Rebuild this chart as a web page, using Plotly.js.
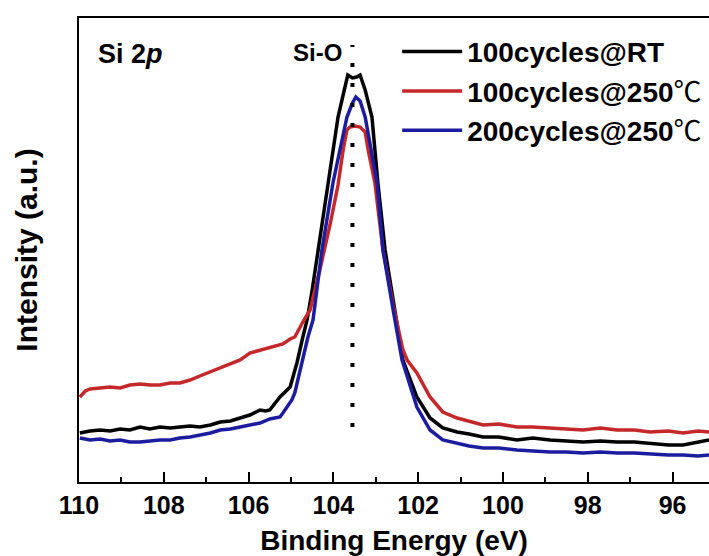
<!DOCTYPE html>
<html>
<head>
<meta charset="utf-8">
<script src="https://cdn.plot.ly/plotly-3.0.1.min.js"></script>
<style>html,body{margin:0;padding:0;background:#fff;}#chart{width:709px;height:556px;}</style>
</head>
<body>
<div id="chart"></div>
<script>
// Binding energy (eV) and intensity (a.u.)
var energyRT = [109.98,109.74,109.50,109.27,109.03,108.80,108.56,108.33,108.09,107.85,107.62,107.38,107.15,106.90,106.67,106.43,106.20,105.97,105.73,105.60,105.50,105.26,105.02,104.86,104.72,104.62,104.50,104.36,104.13,103.89,103.77,103.66,103.55,103.45,103.37,103.25,103.09,102.95,102.78,102.59,102.36,102.03,101.72,101.42,101.08,100.80,100.47,100.10,99.67,99.30,98.89,98.50,98.11,97.70,97.31,96.90,96.53,96.10,95.75,95.40,95.14];
var intensityRT = [49,51,52,51,53,52,55,53,55,54,55,56,55,57,60,61,64,67,72,71,72,85,95,119,145,162,192,232,299,365,387,407,404,405,407,392,365,299,232,182,122,85,64,54,50,48,45,45,42,44,42,41,40,41,40,40,39,37,37,40,42];

var energy250 = [109.98,109.85,109.74,109.50,109.27,109.03,108.80,108.56,108.33,108.09,107.85,107.62,107.38,107.15,106.90,106.67,106.43,106.20,105.97,105.73,105.50,105.26,105.19,105.02,104.91,104.72,104.55,104.32,104.08,103.89,103.77,103.68,103.61,103.49,103.37,103.25,103.18,103.02,102.83,102.59,102.36,102.26,102.03,101.72,101.42,101.08,100.80,100.47,100.10,99.67,99.30,98.89,98.50,98.11,97.70,97.31,96.90,96.53,96.10,95.75,95.40,95.14];
var intensity250 = [85,91,93,94,95,94,97,98,97,97,99,99,102,106,110,114,118,122,129,132,134,137,138,143,145,160,172,212,257,297,332,352,355,356,355,350,332,299,232,177,132,122,109,85,70,64,61,57,58,55,55,54,53,52,54,52,52,50,51,49,51,50];

var energy200 = [109.98,109.74,109.50,109.27,109.03,108.80,108.56,108.33,108.09,107.85,107.62,107.38,107.15,106.90,106.67,106.43,106.20,105.97,105.73,105.50,105.26,105.19,104.98,104.91,104.79,104.60,104.48,104.27,104.01,103.68,103.55,103.47,103.37,103.25,102.97,102.83,102.59,102.38,102.03,101.72,101.42,101.08,100.80,100.47,100.10,99.67,99.30,98.89,98.50,98.11,97.70,97.31,96.90,96.53,96.10,95.75,95.40,95.14];
var intensity200 = [44,42,43,41,42,40,40,41,42,42,44,45,47,49,52,53,55,57,59,63,65,69,82,89,112,145,162,232,299,365,379,385,381,365,299,232,172,122,75,52,42,39,36,34,34,32,31,30,30,29,30,29,29,28,27,27,26,27];

var seriesNames = ['100cycles@RT',
  '100cycles@250<span style="font-family:\'Noto Sans CJK SC\';font-weight:normal">℃</span>',
  '200cycles@250<span style="font-family:\'Noto Sans CJK SC\';font-weight:normal">℃</span>'];
var seriesColors = ['#000000', '#c4282b', '#1c1c9e'];

var tickVals = [110,108,106,104,102,100,98,96];
var tickText = ['110','108','106','104','102','100','98','96'];
var siOPosition = 103.55;
var dotLineRange = [55, 437];

var FONT = 'Liberation Sans, Arial, sans-serif';

var traces = [
  {x: energyRT, y: intensityRT, name: seriesNames[0], mode: 'lines', line: {color: seriesColors[0], width: 3.5}},
  {x: energy250, y: intensity250, name: seriesNames[1], mode: 'lines', line: {color: seriesColors[1], width: 3.5}},
  {x: energy200, y: intensity200, name: seriesNames[2], mode: 'lines', line: {color: seriesColors[2], width: 3.5}}
];

var layout = {
  width: 709, height: 556,
  margin: {l: 79, r: 0, t: 18, b: 74, pad: 0},
  paper_bgcolor: '#fff', plot_bgcolor: '#fff',
  font: {family: FONT, color: '#000', size: 25, weight: 'bold'},
  showlegend: true,
  legend: {
    x: 0.505, y: 0.981, xanchor: 'left', yanchor: 'top',
    bgcolor: 'rgba(0,0,0,0)', borderwidth: 0,
    font: {family: FONT, size: 28, color: '#000', weight: 'bold'},
    itemwidth: 60, tracegroupgap: 0
  },
  xaxis: {
    range: [110, 95.14], autorange: false,
    tickvals: tickVals, ticktext: tickText,
    ticks: 'inside', ticklen: 10, tickwidth: 2, tickcolor: '#000',
    minor: {ticks: 'inside', ticklen: 5, tickwidth: 2, tickcolor: '#000', dtick: 1, tick0: 110},
    showline: true, linewidth: 2, linecolor: '#000', mirror: true,
    showgrid: false, zeroline: false,
    tickfont: {family: FONT, size: 25, color: '#000', weight: 'bold'},
    title: {text: 'Binding Energy (eV)', font: {family: FONT, size: 28, color: '#000', weight: 'bold'}, standoff: 12}
  },
  yaxis: {
    range: [0, 464], autorange: false,
    showticklabels: false, ticks: '',
    showline: true, linewidth: 2, linecolor: '#000', mirror: false,
    showgrid: false, zeroline: false,
    title: {text: 'Intensity (a.u.)', font: {family: FONT, size: 30, color: '#000', weight: 'bold'}, standoff: 31}
  },
  shapes: [{
    type: 'line', xref: 'x', yref: 'y',
    x0: siOPosition, x1: siOPosition, y0: dotLineRange[0], y1: dotLineRange[1],
    line: {color: '#000', width: 4, dash: '4px,16px'}
  }],
  annotations: [
    {xref: 'paper', yref: 'paper', x: 0.027, y: 0.922, xanchor: 'left', yanchor: 'middle', showarrow: false,
     text: 'Si 2<i>p</i>', font: {family: FONT, size: 27, color: '#000', weight: 'bold'}},
    {xref: 'x', yref: 'paper', x: siOPosition, y: 0.925, xanchor: 'right', yanchor: 'middle', showarrow: false,
     xshift: -8, text: 'Si-O', font: {family: FONT, size: 24, color: '#000', weight: 'bold'}}
  ]
};

Plotly.newPlot('chart', traces, layout, {displayModeBar: false, staticPlot: true});
</script>
</body>
</html>
